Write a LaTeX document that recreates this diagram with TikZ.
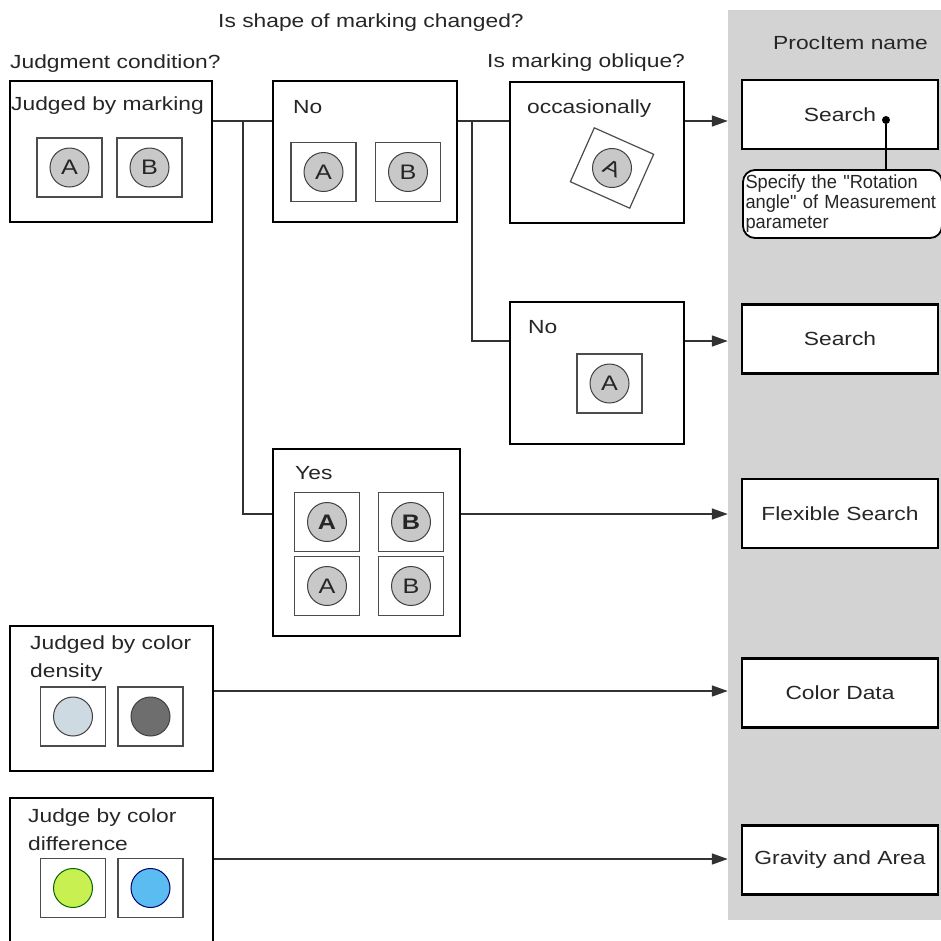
\documentclass[tikz,border=0pt]{standalone}
\usepackage{fontspec}
\setmainfont{Liberation Sans}[FakeStretch=1.2]
\newfontfamily\notefont{Liberation Sans}[FakeStretch=0.96]
\usetikzlibrary{arrows.meta, positioning, calc}
\definecolor{ColumnGray}{RGB}{211,211,211}
\definecolor{MarkGray}{RGB}{200,200,200}
\definecolor{LineGray}{RGB}{50,50,50}
\definecolor{PaleBlue}{RGB}{205,218,226}
\definecolor{DarkDot}{RGB}{110,110,110}
\definecolor{LimeDot}{RGB}{200,240,80}
\definecolor{SkyDot}{RGB}{90,188,240}

\tikzset{
  condbox/.style={draw=black, line width=2.4pt, fill=white, inner sep=0pt},
  procbox/.style={draw=black, line width=2.4pt, fill=white, minimum width=196pt, minimum height=69pt, inner sep=0pt, text=black!85},
  markbox/.style={draw=black!70, line width=1.2pt, minimum width=65pt, minimum height=59pt, inner sep=0pt},
  markdot/.style={circle, draw=black!75, line width=1pt, fill=MarkGray, minimum size=39pt, inner sep=0pt, text=black!85,
    font=\fontsize{21}{28}\selectfont},
  link/.style={draw=LineGray, line width=1.6pt},
  arr/.style={link, -{Triangle[length=16pt,width=11pt]}, shorten >=13pt},
  caption/.style={anchor=base west, inner sep=0pt, text=black!85},
}

\begin{document}
\begin{tikzpicture}[x=1pt, y=-1pt, font=\fontsize{19}{28}\selectfont]
\useasboundingbox (0,0) rectangle (941,940);

% column of processing items
\fill[ColumnGray] (728,10) rectangle (945,920);

% headings
\node[caption] (headShape) at (218,27) {Is shape of marking changed?};
\node[caption] (headCond) at (10,68) {Judgment condition?};
\node[caption] (headObl) at (487,67) {Is marking oblique?};
\node[caption] (headProc) at (773,49) {ProcItem name};

% link levels
\coordinate (lvlA) at (0,121);
\coordinate (lvlB) at (0,341);
\coordinate (lvlC) at (0,514);
\coordinate (lvlD) at (0,691);
\coordinate (lvlE) at (0,859);

% judged by marking
\node[condbox, minimum width=202pt, minimum height=141pt] (markBox) at (111,151.5) {};
\node[caption] (markText) at (11,110) {Judged by marking};
\node[markbox] (markA) at (69.5,167.5) {};
\node[markdot] (markADot) at (markA) {A};
\node[markbox] (markB) at (149.5,167.5) {};
\node[markdot] (markBDot) at (markB) {B};

% shape not changed
\node[condbox, minimum width=184pt, minimum height=141pt] (shapeNoBox) at (365,151.5) {};
\node[caption] (shapeNoText) at (293,113) {No};
\node[markbox] (shapeNoA) at (323.5,172) {};
\node[markdot] (shapeNoADot) at (shapeNoA) {A};
\node[markbox] (shapeNoB) at (408,172) {};
\node[markdot] (shapeNoBDot) at (shapeNoB) {B};

% shape changed
\node[condbox, minimum width=187pt, minimum height=187pt] (shapeYesBox) at (366.5,542.5) {};
\node[caption] (shapeYesText) at (295,479) {Yes};
\node[markbox] (yesA1) at (327,522) {};
\node[markdot, font=\fontsize{21}{28}\selectfont\bfseries] (yesA1Dot) at (yesA1) {A};
\node[markbox] (yesB1) at (411,522) {};
\node[markdot, font=\fontsize{21}{28}\selectfont\bfseries] (yesB1Dot) at (yesB1) {B};
\node[markbox] (yesA2) at (327,586) {};
\node[markdot] (yesA2Dot) at (yesA2) {A};
\node[markbox] (yesB2) at (411,586) {};
\node[markdot] (yesB2Dot) at (yesB2) {B};

% marking oblique occasionally
\node[condbox, minimum width=174pt, minimum height=141pt] (oblOccBox) at (597,152.5) {};
\node[caption] (oblOccText) at (527,113) {occasionally};
\node[markbox, rotate=-24] (oblOccA) at (612,168) {};
\node[markdot, rotate=-24] (oblOccADot) at (oblOccA) {A};

% marking not oblique
\node[condbox, minimum width=174pt, minimum height=142pt] (oblNoBox) at (597,373) {};
\node[caption] (oblNoText) at (528,333) {No};
\node[markbox] (oblNoA) at (609.5,383.5) {};
\node[markdot] (oblNoADot) at (oblNoA) {A};

% judged by color density
\node[condbox, minimum width=203pt, minimum height=145pt] (densityBox) at (111.5,698.5) {};
\node[caption, align=left] (densityText) at (30,677) {Judged by color\\density};
\node[markbox] (densityL) at (73,716.5) {};
\node[markdot, fill=PaleBlue] (densityLDot) at (densityL) {};
\node[markbox] (densityR) at (150.5,716.5) {};
\node[markdot, fill=DarkDot] (densityRDot) at (densityR) {};

% judged by color difference
\node[condbox, minimum width=203pt, minimum height=147pt] (diffBox) at (111.5,871.5) {};
\node[caption, align=left] (diffText) at (28,850) {Judge by color\\difference};
\node[markbox] (diffL) at (73,888) {};
\node[markdot, fill=LimeDot, draw=black!60!green] (diffLDot) at (diffL) {};
\node[markbox] (diffR) at (150.5,888) {};
\node[markdot, fill=SkyDot, draw=black!60!blue] (diffRDot) at (diffR) {};

% processing items
\node[procbox] (search1) at (840,114.5) {Search};
\node[procbox] (search2) at (840,339) {Search};
\node[procbox] (flexSearch) at (840,513.5) {Flexible Search};
\node[procbox] (colorData) at (840,693) {Color Data};
\node[procbox] (gravArea) at (840,860) {Gravity and Area};

% note on rotation angle
\node[draw=black, line width=1.8pt, fill=white, rounded corners=12pt, minimum width=199pt, minimum height=68pt,
  text width=194pt, align=left, inner sep=2pt, text=black!85, font=\notefont\fontsize{19}{20}\selectfont]
  (rotNote) at (842.5,204) {Specify the "Rotation\\angle" of Measurement\\ parameter};
\node[circle, fill=black, minimum size=8pt, inner sep=0pt] (rotDot) at (886,120) {};
\draw[draw=black, line width=1.8pt] (rotDot) -- (rotDot |- rotNote.north);

% connectors
\coordinate (forkA) at (243,121);
\coordinate (forkB) at (472,121);
\draw[link] (markBox.east |- lvlA) -- (shapeNoBox.west |- lvlA);
\draw[link] (forkA) |- (shapeYesBox.west |- lvlC);
\draw[link] (shapeNoBox.east |- lvlA) -- (oblOccBox.west |- lvlA);
\draw[link] (forkB) |- (oblNoBox.west |- lvlB);
\draw[arr] (oblOccBox.east |- lvlA) -- (search1.west |- lvlA);
\draw[arr] (oblNoBox.east |- lvlB) -- (search2.west |- lvlB);
\draw[arr] (shapeYesBox.east |- lvlC) -- (flexSearch.west |- lvlC);
\draw[arr] (densityBox.east |- lvlD) -- (colorData.west |- lvlD);
\draw[arr] (diffBox.east |- lvlE) -- (gravArea.west |- lvlE);
\end{tikzpicture}
\end{document}
